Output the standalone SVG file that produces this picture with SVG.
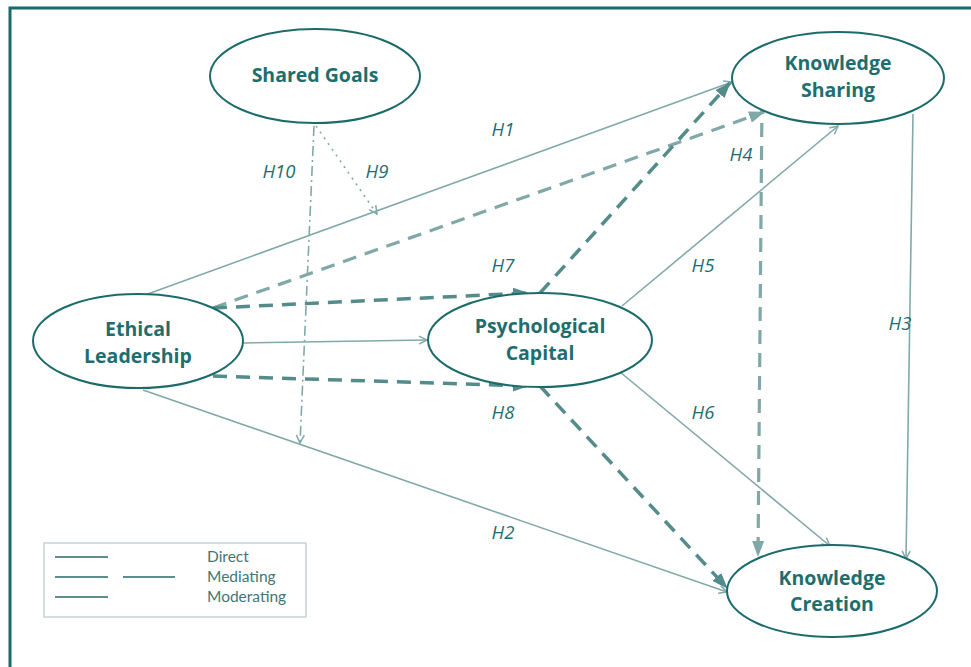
<svg xmlns="http://www.w3.org/2000/svg" width="971" height="667" viewBox="0 0 971 667">
<style>
.node ellipse{fill:#fff;stroke:#1b6b6b;stroke-width:2}
.node text{font-family:"Open Sans","Noto Sans",sans-serif;font-weight:bold;font-size:19.5px;fill:#1e6e6e;text-anchor:middle}
.lbl{font-family:"Open Sans","Noto Sans",sans-serif;font-style:italic;font-size:18.5px;fill:#1e6e6e;text-anchor:middle}
.thin{stroke:#82a9a9;stroke-width:1.6;fill:none}
.dk{stroke:#548b8b;stroke-width:3.5;fill:none;stroke-dasharray:14 9}
.lt{stroke:#80a8a8;stroke-width:3.2;fill:none;stroke-dasharray:14 9}
.leg text{font-family:Lato,"Open Sans",sans-serif;font-size:15.5px;fill:#3f7676}
.leg line{stroke:#5f8d8d;stroke-width:2.2}
</style>
<defs>
<marker id="a" viewBox="0 0 10 10" refX="9" refY="5" markerWidth="10" markerHeight="10" markerUnits="userSpaceOnUse" orient="auto"><path d="M1,1 L9,5 L1,9" fill="none" stroke="#82a9a9" stroke-width="1.5"/></marker>
<marker id="b" viewBox="0 0 16 12" refX="15" refY="6" markerWidth="16" markerHeight="12" markerUnits="userSpaceOnUse" orient="auto"><path d="M0,0 L16,6 L0,12 Z" fill="#548b8b"/></marker>
<marker id="c" viewBox="0 0 16 12" refX="15" refY="6" markerWidth="16" markerHeight="12" markerUnits="userSpaceOnUse" orient="auto"><path d="M0,0 L16,6 L0,12 Z" fill="#80a8a8"/></marker>
</defs>
<rect x="10" y="8" width="980" height="700" fill="none" stroke="#1a6a6a" stroke-width="3"/>
<g id="connectors">
<line class="thin" x1="145" y1="295" x2="732" y2="82" marker-end="url(#a)"/>
<line class="lt" x1="213" y1="308" x2="764" y2="112" marker-end="url(#c)"/>
<line class="dk" x1="213" y1="308" x2="528" y2="293" marker-end="url(#b)"/>
<line class="dk" x1="540" y1="293" x2="730" y2="83" marker-end="url(#b)"/>
<line class="thin" x1="243" y1="343" x2="427" y2="340" marker-end="url(#a)"/>
<line class="dk" x1="213" y1="376" x2="528" y2="386" marker-end="url(#b)"/>
<line class="dk" x1="540" y1="386" x2="727" y2="588" marker-end="url(#b)"/>
<line class="thin" x1="143" y1="390" x2="727" y2="592" marker-end="url(#a)"/>
<line class="thin" x1="622" y1="306" x2="838" y2="126" marker-end="url(#a)"/>
<line class="thin" x1="620" y1="372" x2="830" y2="546" marker-end="url(#a)"/>
<line class="lt" x1="762" y1="100" x2="758" y2="556" marker-end="url(#c)"/>
<line class="thin" x1="913" y1="114" x2="906" y2="559" marker-end="url(#a)"/>
<line class="thin" x1="316" y1="126" x2="377" y2="214" stroke-dasharray="2 5" marker-end="url(#a)"/>
<line class="thin" x1="314" y1="126" x2="300" y2="443" stroke-dasharray="10 4 2 4" marker-end="url(#a)"/>
</g>
<g id="shared-goals" class="node"><ellipse cx="315" cy="76" rx="105" ry="47"/><text x="315" y="82">Shared Goals</text></g>
<g id="knowledge-sharing" class="node"><ellipse cx="838" cy="78" rx="106" ry="46"/><text x="838" y="70">Knowledge</text><text x="838" y="97">Sharing</text></g>
<g id="ethical-leadership" class="node"><ellipse cx="138" cy="341" rx="105" ry="47"/><text x="138" y="336">Ethical</text><text x="138" y="363">Leadership</text></g>
<g id="psychological-capital" class="node"><ellipse cx="540" cy="340" rx="112" ry="47"/><text x="540" y="333">Psychological</text><text x="540" y="360">Capital</text></g>
<g id="knowledge-creation" class="node"><ellipse cx="832" cy="591" rx="105" ry="46"/><text x="832" y="585">Knowledge</text><text x="832" y="611">Creation</text></g>
<g id="labels">
<text class="lbl" x="503" y="136">H1</text>
<text class="lbl" x="279" y="178">H10</text>
<text class="lbl" x="377" y="178">H9</text>
<text class="lbl" x="741" y="161">H4</text>
<text class="lbl" x="503" y="272">H7</text>
<text class="lbl" x="703" y="272">H5</text>
<text class="lbl" x="900" y="330">H3</text>
<text class="lbl" x="503" y="419">H8</text>
<text class="lbl" x="703" y="419">H6</text>
<text class="lbl" x="503" y="539">H2</text>
</g>
<g id="legend" class="leg">
<rect x="44" y="543" width="262" height="74" fill="none" stroke="#b5c8c8" stroke-width="1.2"/>
<line x1="55" y1="557" x2="108" y2="557"/>
<line x1="55" y1="577" x2="108" y2="577"/>
<line x1="123" y1="577" x2="175" y2="577"/>
<line x1="55" y1="597" x2="108" y2="597"/>
<text x="207" y="562">Direct</text>
<text x="207" y="582">Mediating</text>
<text x="207" y="602">Moderating</text>
</g>
</svg>
